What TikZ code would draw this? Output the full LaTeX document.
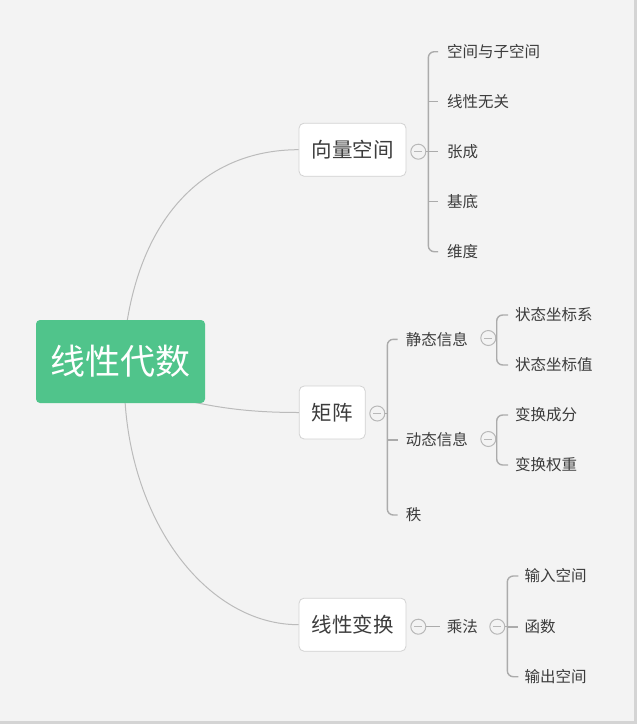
\documentclass[tikz,border=0pt]{standalone}
\usepackage{fontspec}
\newfontfamily\cjk{Noto Sans CJK SC}
\usetikzlibrary{calc}
\definecolor{bg}{HTML}{F3F3F3}
\definecolor{frame}{HTML}{D4D4D4}
\definecolor{rootg}{HTML}{50C48B}
\definecolor{curvec}{HTML}{BBBBBB}
\definecolor{brk}{HTML}{ABABAB}
\definecolor{txt}{HTML}{3C3C3C}
\definecolor{boxline}{HTML}{D2D2D2}
\begin{document}
\begin{tikzpicture}[x=1pt,y=-1pt,
  rootbox/.style={fill=rootg, rounded corners=4pt, minimum width=169pt, minimum height=83pt,
    inner sep=0pt, text=white, font=\cjk\fontsize{35}{35}\selectfont},
  topicbox/.style={draw=boxline, line width=0.8pt, fill=white, rounded corners=5pt, minimum height=53pt,
    inner sep=0pt, text=txt, font=\cjk\fontsize{20.5}{20.5}\selectfont},
  leaf/.style={anchor=west, inner sep=0pt, text=txt, font=\cjk\fontsize{15.5}{15.5}\selectfont},
  coll/.style={circle, draw=brk!85, fill=bg, line width=1pt, minimum size=15pt, inner sep=0pt,
    path picture={\draw[brk!85, line width=1pt] ([xshift=-4pt]path picture bounding box.center) -- ([xshift=4pt]path picture bounding box.center);}},
  curveline/.style={draw=curvec, line width=1pt},
  brline/.style={draw=brk, line width=1.4pt, rounded corners=6pt}
]
% background and frame
\fill[white] (0,0) rectangle (640,728);
\fill[frame] (0,0) rectangle (637,724);
\fill[bg] (0,0) rectangle (634,721);
\useasboundingbox (0,0) rectangle (640,728);

% curve end points on the root
\coordinate (rtop) at (127,322);
\coordinate (rmid) at (193,402);
\coordinate (rbot) at (125,401);

% main nodes
\node[topicbox, minimum width=107pt] (v) at (352.5,149.7) {向量空间};
\node[topicbox, minimum width=66pt] (m) at (332.2,412.5) {矩阵};
\node[topicbox, minimum width=107pt] (t) at (352.5,624.7) {线性变换};

\draw[curveline] (rtop) .. controls (145,210) and (210,149.7) .. (v.west);
\draw[curveline] (rmid) .. controls (230,410) and (262,412.5) .. (m.west);
\draw[curveline] (rbot) .. controls (133,528) and (210,624.7) .. (t.west);

\node[rootbox] (root) at (120.5,361.5) {线性代数};

% group 1: 向量空间
\node[leaf] (a1) at (447,51.7) {空间与子空间};
\node[leaf] (a2) at (447,101.7) {线性无关};
\node[leaf] (a3) at (447,151.7) {张成};
\node[leaf] (a4) at (447,201.7) {基底};
\node[leaf] (a5) at (447,251.7) {维度};
\coordinate (b1) at (428.3,151.7);
\node[coll] (c1) at (418.3,151.7) {};
\draw[brline] ($(a1.west)+(-9,0)$) -| (b1) |- ($(a5.west)+(-9,0)$);
\draw[brline] (b1 |- a2.west) -- ($(a2.west)+(-9,0)$);
\draw[brline] (b1 |- a3.west) -- ($(a3.west)+(-9,0)$);
\draw[brline] (b1 |- a4.west) -- ($(a4.west)+(-9,0)$);
\draw[brline] (c1.east) -- (b1);

% group 2: 矩阵
\node[leaf] (s) at (405.7,339.3) {静态信息};
\node[leaf] (d) at (405.7,440) {动态信息};
\node[leaf] (r) at (405.7,515) {秩};
\node[coll] (c2) at (377.3,413.5) {};
\coordinate (b2) at (387.3,413.5);
\draw[brline] ($(s.west)+(-8,0)$) -| (b2) |- ($(r.west)+(-8,0)$);
\draw[brline] (b2 |- d.west) -- ($(d.west)+(-8,0)$);
\draw[brline] (c2.east) -- (b2);

% group 3: 静态信息
\node[leaf] (s1) at (515,315) {状态坐标系};
\node[leaf] (s2) at (515,365) {状态坐标值};
\node[coll] (c3) at (488.3,338) {};
\coordinate (b3) at (496.7,338);
\draw[brline] ($(s1.west)+(-7,0)$) -| (b3) |- ($(s2.west)+(-7,0)$);
\draw[brline] (c3.east) -- (b3);

% group 4: 动态信息
\node[leaf] (d1) at (515,415) {变换成分};
\node[leaf] (d2) at (515,465) {变换权重};
\node[coll] (c4) at (488.3,439) {};
\coordinate (b4) at (496.7,439);
\draw[brline] ($(d1.west)+(-7,0)$) -| (b4) |- ($(d2.west)+(-7,0)$);
\draw[brline] (c4.east) -- (b4);

% group 5: 线性变换
\node[coll] (c5) at (418.3,626.7) {};
\node[leaf] (p) at (446.7,626.7) {乘法};
\draw[brline] (c5.east) -- ($(p.west)+(-7,0)$);
\node[coll] (c6) at (497.3,626.7) {};
\node[leaf] (p1) at (524.3,576) {输入空间};
\node[leaf] (p2) at (524.3,627) {函数};
\node[leaf] (p3) at (524.3,676.7) {输出空间};
\coordinate (b6) at (507.3,627);
\draw[brline] ($(p1.west)+(-6,0)$) -| (b6) |- ($(p3.west)+(-6,0)$);
\draw[brline] (b6 |- p2.west) -- ($(p2.west)+(-6,0)$);
\draw[brline] (c6.east) -- (c6.east -| b6);
\end{tikzpicture}
\end{document}
